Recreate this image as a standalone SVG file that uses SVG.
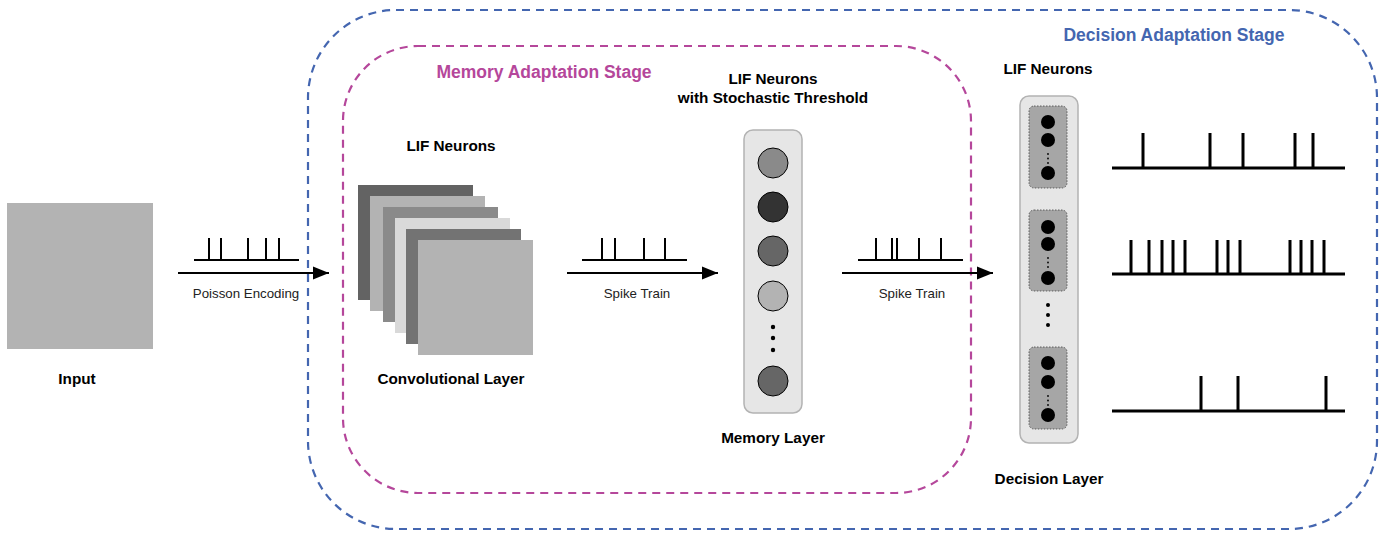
<svg xmlns="http://www.w3.org/2000/svg" width="1395" height="533" viewBox="0 0 1395 533">
<defs>
<style>
.lbl{font-family:"Liberation Sans",Arial,sans-serif;font-weight:bold;font-size:15.3px;fill:#000;text-anchor:middle}
.sm{font-family:"Liberation Sans",Arial,sans-serif;font-size:13.3px;fill:#222;text-anchor:middle}
.stage{font-family:"Liberation Sans",Arial,sans-serif;font-weight:bold;font-size:17.5px;text-anchor:middle}
.spk{fill:none;stroke:#000;stroke-width:2}
.spk3{fill:none;stroke:#000;stroke-width:3}
.conn{fill:none;stroke:#000;stroke-width:2}
.col{fill:#e6e6e6;stroke:#b3b3b3;stroke-width:1.5}
.grp{fill:#a6a6a6;stroke:#444;stroke-width:0.8;stroke-dasharray:1.5 1.5}
.neu{stroke:#000;stroke-width:1}
</style>
<marker id="ah" markerUnits="userSpaceOnUse" markerWidth="16" markerHeight="14" refX="16" refY="7" orient="auto">
<path d="M0,0.5 L16,7 L0,13.5 z" fill="#000"/>
</marker>
</defs>
<rect width="1395" height="533" fill="#fff"/>

<g id="decision-stage">
<rect x="308" y="10" width="1069" height="519" rx="88" fill="none" stroke="#4466b0" stroke-width="2.2" stroke-dasharray="8 6"/>
<text class="stage" x="1174" y="41" fill="#4466b0">Decision Adaptation Stage</text>
</g>
<g id="memory-stage">
<rect x="343" y="46" width="628" height="447" rx="75" fill="none" stroke="#b5479b" stroke-width="2.2" stroke-dasharray="8 6"/>
<text class="stage" x="544" y="78" fill="#b5479b">Memory Adaptation Stage</text>
</g>

<g id="input">
<rect x="7" y="203" width="146" height="146" fill="#b3b3b3"/>
<text class="lbl" x="77" y="384">Input</text>
</g>

<g id="conv-layer">
<text class="lbl" x="451" y="151">LIF Neurons</text>
<rect x="358" y="185" width="115" height="115" fill="#636363"/>
<rect x="370" y="196" width="115" height="115" fill="#b3b3b3"/>
<rect x="383" y="207" width="115" height="115" fill="#8a8a8a"/>
<rect x="395" y="218" width="115" height="115" fill="#d9d9d9"/>
<rect x="406" y="229" width="115" height="115" fill="#737373"/>
<rect x="418" y="240" width="115" height="115" fill="#b3b3b3"/>
<text class="lbl" x="451" y="384">Convolutional Layer</text>
</g>

<g id="memory-layer">
<text class="lbl" x="773" y="84">LIF Neurons</text>
<text class="lbl" x="773" y="103">with Stochastic Threshold</text>
<rect class="col" x="744" y="130" width="58" height="283" rx="9"/>
<circle class="neu" cx="773" cy="163" r="15" fill="#8a8a8a"/>
<circle class="neu" cx="773" cy="207" r="15" fill="#333333"/>
<circle class="neu" cx="773" cy="251" r="15" fill="#666666"/>
<circle class="neu" cx="773" cy="296" r="15" fill="#b3b3b3"/>
<circle cx="773" cy="327" r="2.2" fill="#000"/>
<circle cx="773" cy="338" r="2.2" fill="#000"/>
<circle cx="773" cy="350" r="2.2" fill="#000"/>
<circle class="neu" cx="773" cy="381" r="15" fill="#666666"/>
<text class="lbl" x="773" y="443">Memory Layer</text>
</g>

<g id="decision-layer">
<text class="lbl" x="1048" y="74">LIF Neurons</text>
<rect class="col" x="1020" y="96" width="58" height="347" rx="9"/>
<rect class="grp" x="1029" y="106" width="38" height="82" rx="5"/>
<circle cx="1048" cy="122" r="7" fill="#000"/>
<circle cx="1048" cy="140" r="7" fill="#000"/>
<circle cx="1048" cy="154" r="0.9" fill="#000"/>
<circle cx="1048" cy="158.5" r="0.9" fill="#000"/>
<circle cx="1048" cy="163" r="0.9" fill="#000"/>
<circle cx="1048" cy="173" r="7" fill="#000"/>
<rect class="grp" x="1029" y="210" width="38" height="81" rx="5"/>
<circle cx="1048" cy="227" r="7" fill="#000"/>
<circle cx="1048" cy="244" r="7" fill="#000"/>
<circle cx="1048" cy="258" r="0.9" fill="#000"/>
<circle cx="1048" cy="262.5" r="0.9" fill="#000"/>
<circle cx="1048" cy="267" r="0.9" fill="#000"/>
<circle cx="1048" cy="278" r="7" fill="#000"/>
<circle cx="1048" cy="305" r="2" fill="#000"/>
<circle cx="1048" cy="315" r="2" fill="#000"/>
<circle cx="1048" cy="325" r="2" fill="#000"/>
<rect class="grp" x="1029" y="347" width="38" height="82" rx="5"/>
<circle cx="1048" cy="363" r="7" fill="#000"/>
<circle cx="1048" cy="382" r="7" fill="#000"/>
<circle cx="1048" cy="396" r="0.9" fill="#000"/>
<circle cx="1048" cy="400.5" r="0.9" fill="#000"/>
<circle cx="1048" cy="405" r="0.9" fill="#000"/>
<circle cx="1048" cy="415" r="7" fill="#000"/>
<text class="lbl" x="1049" y="484">Decision Layer</text>
</g>

<g id="connectors">
<line class="conn" x1="178" y1="273" x2="329" y2="273" marker-end="url(#ah)"/>
<line class="conn" x1="567" y1="273" x2="718" y2="273" marker-end="url(#ah)"/>
<line class="conn" x1="842" y1="273" x2="993" y2="273" marker-end="url(#ah)"/>
<text class="sm" x="246" y="298">Poisson Encoding</text>
<text class="sm" x="637" y="298">Spike Train</text>
<text class="sm" x="912" y="298">Spike Train</text>
</g>

<g id="spike-trains-arrows">
<path class="spk" d="M194,260 H299 M209,260 V238 M221,260 V238 M248,260 V238 M266,260 V238 M279,260 V238"/>
<path class="spk" d="M582,260 H687 M602,260 V238 M615,260 V238 M644,260 V238 M665,260 V238"/>
<path class="spk" d="M858,260 H963 M876,260 V238 M892,260 V238 M897,260 V238 M919,260 V238 M941,260 V238"/>
</g>

<g id="output-spike-trains">
<path class="spk3" d="M1112,168 H1345 M1143,168 V133 M1210,168 V133 M1243,168 V133 M1295,168 V133 M1313,168 V133"/>
<path class="spk3" d="M1112,274 H1345 M1131,274 V240 M1149,274 V240 M1162,274 V240 M1173,274 V240 M1185,274 V240 M1217,274 V240 M1228,274 V240 M1240,274 V240 M1290,274 V240 M1301,274 V240 M1312,274 V240 M1324,274 V240"/>
<path class="spk3" d="M1112,411 H1345 M1201,411 V376 M1238,411 V376 M1326,411 V376"/>
</g>
</svg>
